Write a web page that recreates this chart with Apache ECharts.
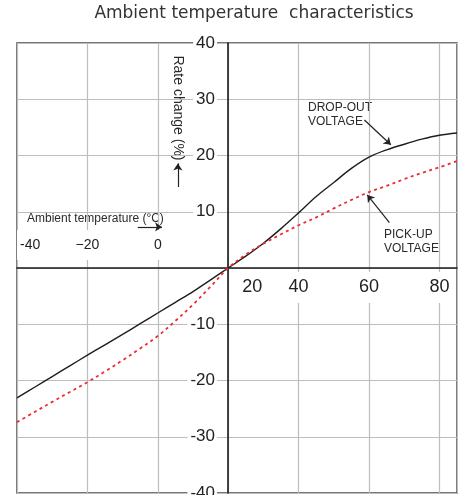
<!DOCTYPE html>
<html>
<head>
<meta charset="utf-8">
<script src="https://cdn.jsdelivr.net/npm/echarts@6/dist/echarts.min.js"></script>
<style>
html,body{margin:0;padding:0;background:#fff;}
#chart{width:458px;height:495px;}
</style>
</head>
<body>
<div id="chart"></div>
<script>
// ---- data ----
var temps   = [-40, -35, -30, -25, -20, -15, -10, -5, 0, 5, 10, 15, 20, 25, 30, 35, 40, 45, 50, 55, 60, 65, 70, 75, 80, 85];
var dropOut = [-23.1, -21.2, -19.3, -17.4, -15.5, -13.65, -11.8, -9.9, -8.0, -6.1, -4.2, -2.1, 0, 2.1, 4.4, 7.0, 9.8, 12.7, 15.2, 17.7, 19.7, 21.0, 22.0, 22.9, 23.6, 24.0];
var pickUp  = [-27.4, -25.6, -23.8, -22.05, -20.3, -18.4, -16.4, -14.3, -12.1, -9.4, -6.5, -3.3, 0, 2.4, 4.3, 6.0, 7.6, 9.0, 10.6, 12.1, 13.5, 14.6, 15.8, 16.9, 17.9, 19.0];

var topTickValues    = [-40, -20, 0];
var topTickText      = ['-40', '\u221220', '0'];
var bottomTickValues = [20, 40, 60, 80];
var bottomTickText   = ['20', '40', '60', '80'];
var yTickValues      = [40, 30, 20, 10, -10, -20, -30, -40];
var yTickText        = ['40', '30', '20', '10', '-10', '-20', '-30', '-40'];

var titleText  = 'Ambient temperature  characteristics';
var xNameText  = 'Ambient temperature (\u00B0C)';
var yNameText  = 'Rate change (%)';
var dropLabel  = 'DROP-OUT\nVOLTAGE';
var pickLabel  = 'PICK-UP\nVOLTAGE';

// ---- chart ----
var FONT = '"Liberation Sans", Arial, Helvetica, sans-serif';
var chart = echarts.init(document.getElementById('chart'), null, {renderer: 'canvas'});

function lookup(values, texts, v) {
  var i = values.indexOf(v);
  return i < 0 ? null : texts[i];
}

var seriesData = function (vals) {
  return temps.map(function (t, i) { return [t, vals[i]]; });
};

var option = {
  animation: false,
  textStyle: {fontFamily: FONT},
  title: {
    text: titleText,
    left: 254,
    top: 5,
    padding: 0,
    textAlign: 'center',
    textStyle: {fontFamily: '"DejaVu Sans", sans-serif', fontSize: 17, fontWeight: 'normal', color: '#333'}
  },
  grid: {
    left: 17, right: 1, top: 43, bottom: 2,
    containLabel: false,
    outerBoundsMode: 'none',
    show: true,
    borderColor: '#4a4a4a',
    borderWidth: 1.5,
    backgroundColor: 'transparent'
  },
  xAxis: [
    {
      type: 'value', min: -40, max: 85, interval: 20,
      position: 'bottom', offset: -225,
      axisLine: {show: true, onZero: false, lineStyle: {color: '#1a1a1a', width: 1.6}},
      axisTick: {show: false},
      splitLine: {show: true, lineStyle: {color: '#bdbdbd', width: 1.2}},
      axisLabel: {
        margin: 4,
        showMinLabel: true, showMaxLabel: true,
        formatter: function (v) {
          var s = lookup(bottomTickValues, bottomTickText, v);
          if (s === null) return '';
          if (v === 20) return '{sp| }{n|' + s + '}';
          return '{n|' + s + '}';
        },
        rich: {
          sp: {width: 48, fontSize: 18},
          n: {fontSize: 18, color: '#222', fontFamily: FONT, backgroundColor: '#fff', padding: [6, 4, 7, 4]}
        }
      }
    },
    {
      type: 'value', min: -40, max: 85, interval: 20,
      position: 'top', offset: -225,
      axisLine: {show: false},
      axisTick: {show: false},
      splitLine: {show: false},
      axisLabel: {
        margin: 8,
        alignMinLabel: 'left',
        showMinLabel: true,
        formatter: function (v) {
          var s = lookup(topTickValues, topTickText, v);
          return s === null ? '' : '{n|' + s + '}';
        },
        rich: {
          n: {fontSize: 14, color: '#222', fontFamily: FONT, backgroundColor: '#fff', padding: [8, 3, 8, 3]}
        }
      }
    }
  ],
  yAxis: {
    type: 'value', min: -40, max: 40, interval: 10,
    position: 'left', offset: -211,
    axisLine: {show: true, onZero: false, lineStyle: {color: '#1a1a1a', width: 1.6}},
    axisTick: {show: false},
    splitLine: {show: true, lineStyle: {color: '#bdbdbd', width: 1.2}},
    axisLabel: {
      margin: 11,
      showMinLabel: true, showMaxLabel: true,
      formatter: function (v) {
        var s = lookup(yTickValues, yTickText, v);
        return s === null ? '' : '{n|' + s + '}';
      },
      rich: {
        n: {fontSize: 17, color: '#222', fontFamily: FONT, backgroundColor: '#fff', padding: [1, 2, 1, 3]}
      }
    }
  },
  series: [
    {
      name: 'DROP-OUT VOLTAGE',
      type: 'line',
      xAxisIndex: 0,
      data: seriesData(dropOut),
      smooth: 0.35,
      symbol: 'none',
      lineStyle: {color: '#1e1e1e', width: 1.4},
      emphasis: {disabled: true},
      z: 3,
      markLine: {
        silent: true,
        animation: false,
        symbol: ['none', 'arrow'],
        symbolSize: 7,
        label: {show: false},
        emphasis: {disabled: true},
        lineStyle: {color: '#222', width: 1.2, type: 'solid'},
        data: [
          [{coord: [58.7, 26.3]}, {coord: [66.2, 21.9]}],
          [{coord: [65.8, 8.05]}, {coord: [59.5, 13.0]}],
          [{coord: [5.7, 14.4]}, {coord: [5.7, 18.6]}],
          [{coord: [-5.7, 7.3]}, {coord: [1.2, 7.3]}]
        ]
      }
    },
    {
      name: 'PICK-UP VOLTAGE',
      type: 'line',
      xAxisIndex: 0,
      data: seriesData(pickUp),
      smooth: 0.35,
      symbol: 'none',
      lineStyle: {color: '#ee2b2f', width: 1.8, type: [3, 3.5]},
      emphasis: {disabled: true},
      z: 3
    }
  ],
  graphic: [
    {
      type: 'text', left: 27, top: 213,
      style: {text: xNameText, font: '12px ' + FONT, fill: '#2a2a2a'}
    },
    {
      type: 'text', x: 178, y: 108, rotation: -Math.PI / 2,
      style: {text: yNameText, font: '14px ' + FONT, fill: '#2a2a2a', align: 'center', verticalAlign: 'middle'}
    },
    {
      type: 'text', left: 308, top: 101,
      style: {text: dropLabel, font: '12px ' + FONT, fill: '#2a2a2a', lineHeight: 14}
    },
    {
      type: 'text', left: 384, top: 228,
      style: {text: pickLabel, font: '12px ' + FONT, fill: '#2a2a2a', lineHeight: 14}
    }
  ]
};

chart.setOption(option);
</script>
</body>
</html>
